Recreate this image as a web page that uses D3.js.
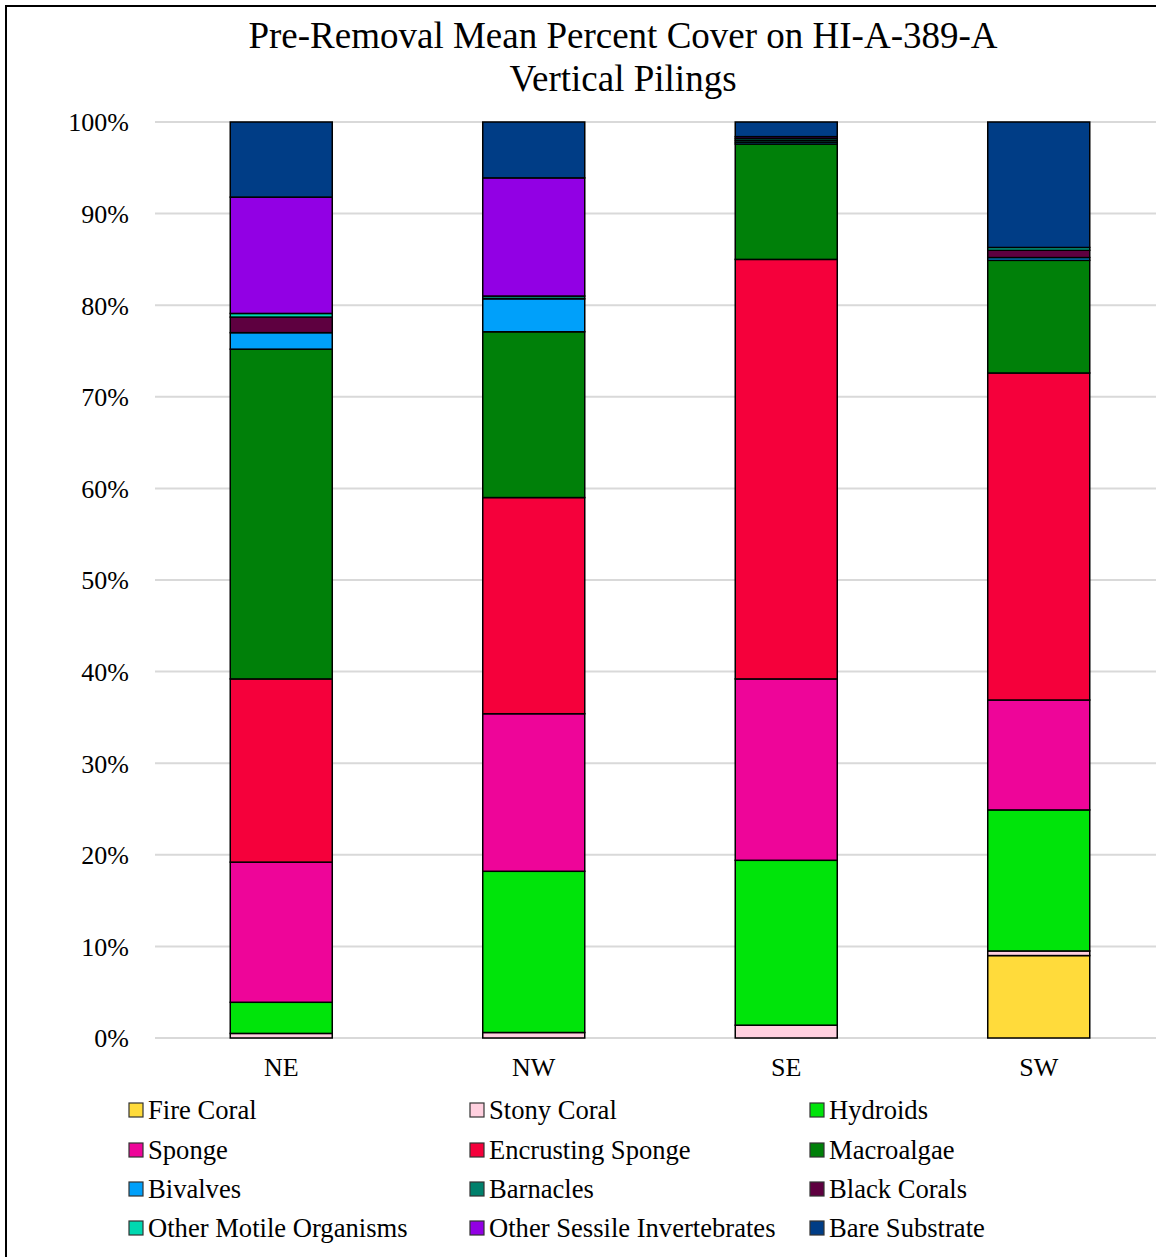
<!DOCTYPE html>
<html>
<head>
<meta charset="utf-8">
<script src="https://cdn.jsdelivr.net/npm/d3@7"></script>
<style>
  html, body { margin: 0; padding: 0; background: #fff; }
  svg { display: block; font-family: "Liberation Serif", "Times New Roman", serif; }
</style>
</head>
<body>
<svg id="chart" width="1156" height="1257"></svg>
<script>
// Sides of the piling group
const categories = ["NE", "NW", "SE", "SW"];

// Cover classes, bottom of the stack first
const seriesNames = [
  "Fire Coral", "Stony Coral", "Hydroids",
  "Sponge", "Encrusting Sponge", "Macroalgae",
  "Bivalves", "Barnacles", "Black Corals",
  "Other Motile Organisms", "Other Sessile Invertebrates", "Bare Substrate"
];

const seriesColors = [
  "#FFDB3B", "#FFD0DF", "#00E40A",
  "#EE0599", "#F5003B", "#008009",
  "#00A0FA", "#00806C", "#5E0040",
  "#00D8B0", "#9200E4", "#003D86"
];

// Mean percent cover per class, one value per side (NE, NW, SE, SW)
const fireCoral        = [0.0, 0.0, 0.0, 9.0];
const stonyCoral       = [0.5, 0.6, 1.4, 0.5];
const hydroids         = [3.4, 17.6, 18.0, 15.4];
const sponge           = [15.3, 17.2, 19.8, 12.0];
const encrustingSponge = [20.0, 23.6, 45.8, 35.7];
const macroalgae       = [36.0, 18.1, 12.6, 12.3];
const bivalves         = [1.8, 3.6, 0.2, 0.3];
const barnacles        = [0.0, 0.3, 0.2, 0.0];
const blackCorals      = [1.7, 0.0, 0.0, 0.8];
const otherMotile      = [0.4, 0.0, 0.2, 0.3];
const otherSessile     = [12.7, 12.9, 0.2, 0.0];
const bareSubstrate    = [8.2, 6.1, 1.6, 13.7];

const yTicks = [0, 10, 20, 30, 40, 50, 60, 70, 80, 90, 100];

const seriesValues = [
  fireCoral, stonyCoral, hydroids, sponge, encrustingSponge, macroalgae,
  bivalves, barnacles, blackCorals, otherMotile, otherSessile, bareSubstrate
];

// Build the row table for d3.stack
const rows = categories.map((c, i) => {
  const r = { side: c };
  seriesNames.forEach((s, k) => { r[s] = seriesValues[k][i]; });
  return r;
});

const svg = d3.select("#chart");

// Outer frame
svg.append("rect")
  .attr("x", 6).attr("y", 6)
  .attr("width", 1200).attr("height", 1300)
  .attr("fill", "none").attr("stroke", "#000").attr("stroke-width", 2);

// Title
const title = svg.append("text")
  .attr("text-anchor", "middle")
  .attr("font-size", 37)
  .attr("fill", "#000");
title.append("tspan").attr("x", 623).attr("y", 48).text("Pre-Removal Mean Percent Cover on HI-A-389-A");
title.append("tspan").attr("x", 623).attr("y", 91).text("Vertical Pilings");

const x = d3.scaleBand()
  .domain(categories)
  .range([155, 1165])
  .paddingInner(0.596)
  .paddingOuter(0.298);

const y = d3.scaleLinear().domain([0, 100]).range([1038, 122]);

// Gridlines
svg.append("g")
  .selectAll("line")
  .data(yTicks)
  .join("line")
  .attr("x1", 155).attr("x2", 1165)
  .attr("y1", d => y(d)).attr("y2", d => y(d))
  .attr("stroke", "#d9d9d9").attr("stroke-width", 2);

// Y axis labels
const yAxis = d3.axisLeft(y)
  .tickValues(yTicks)
  .tickSize(0)
  .tickPadding(26)
  .tickFormat(d => d + "%");
svg.append("g")
  .attr("transform", "translate(155,0)")
  .call(yAxis)
  .call(g => g.select(".domain").remove())
  .call(g => g.selectAll("text")
    .attr("font-family", "Liberation Serif, Times New Roman, serif")
    .attr("font-size", 26).attr("fill", "#000").attr("dy", "0.34em"));

// Stacked bars
const stack = d3.stack().keys(seriesNames);
const layers = stack(rows);

svg.append("g")
  .selectAll("g")
  .data(layers)
  .join("g")
  .attr("fill", (d, i) => seriesColors[i])
  .selectAll("rect")
  .data(d => d.filter(p => p[1] - p[0] > 0))
  .join("rect")
  .attr("x", d => x(d.data.side))
  .attr("width", x.bandwidth())
  .attr("y", d => y(d[1]))
  .attr("height", d => y(d[0]) - y(d[1]))
  .attr("stroke", "#000")
  .attr("stroke-width", 1.5);

// X axis labels
const xAxis = d3.axisBottom(x).tickSize(0).tickPadding(20);
svg.append("g")
  .attr("transform", "translate(0,1038)")
  .call(xAxis)
  .call(g => g.select(".domain").remove())
  .call(g => g.selectAll("text")
    .attr("font-family", "Liberation Serif, Times New Roman, serif")
    .attr("font-size", 26).attr("fill", "#000"));

// Legend: three columns, four rows
const legendCols = [129, 470, 810];
const legendRows = [1110, 1150, 1189, 1228];
const legend = svg.append("g")
  .selectAll("g")
  .data(seriesNames)
  .join("g")
  .attr("transform", (d, i) => `translate(${legendCols[i % 3]},${legendRows[Math.floor(i / 3)]})`);

legend.append("rect")
  .attr("x", 0).attr("y", -7)
  .attr("width", 14).attr("height", 14)
  .attr("fill", (d, i) => seriesColors[i])
  .attr("stroke", "#333").attr("stroke-width", 1.2);

legend.append("text")
  .attr("x", 19).attr("y", 0).attr("dy", "0.34em")
  .attr("font-size", 26.6).attr("fill", "#000")
  .text(d => d);
</script>
</body>
</html>
